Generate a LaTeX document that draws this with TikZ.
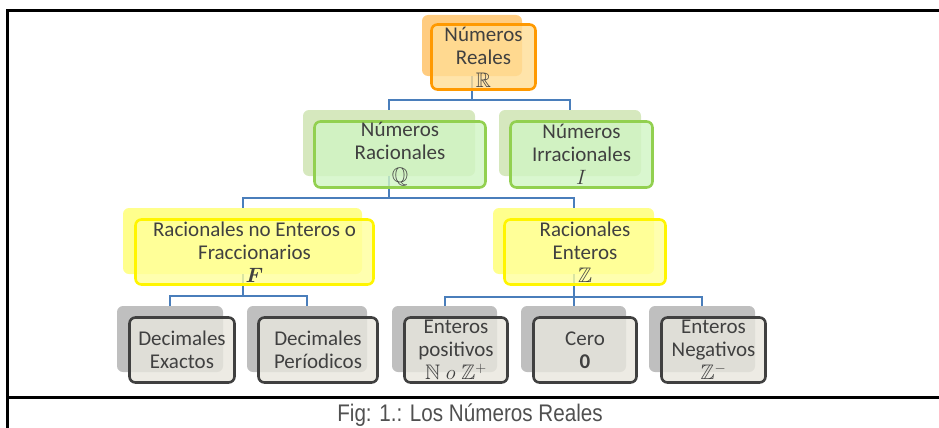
\documentclass[tikz,border=0pt]{standalone}
\usepackage{amsmath,amssymb,bm}
\usepackage{fontspec}
\setmainfont{Carlito}
\newfontfamily\capfont[FakeStretch=0.86]{Liberation Sans}
\definecolor{txt}{RGB}{64,64,64}
\definecolor{captxt}{RGB}{80,80,80}
\definecolor{conncol}{RGB}{74,126,187}
\definecolor{ofr}{RGB}{255,221,149}
\definecolor{osh}{RGB}{255,204,128}
\definecolor{obd}{RGB}{255,153,0}
\definecolor{gfr}{RGB}{208,245,195}
\definecolor{gsh}{RGB}{214,232,190}
\definecolor{gbd}{RGB}{146,208,80}
\definecolor{yfr}{RGB}{255,255,155}
\definecolor{ysh}{RGB}{255,255,140}
\definecolor{ybd}{RGB}{255,245,0}
\definecolor{kfr}{RGB}{232,230,221}
\definecolor{ksh}{RGB}{191,191,191}
\definecolor{kbd}{RGB}{64,64,64}
\tikzset{
  shad/.style={draw=none, rounded corners=6pt, inner sep=0pt},
  front/.style={rounded corners=6pt, inner sep=0pt, align=center, text=txt,
    line width=2.6pt, fill opacity=0.8, text opacity=1, draw opacity=1,
    font=\fontsize{21}{23}\selectfont},
  oshad/.style={shad, fill=osh},
  gshad/.style={shad, fill=gsh},
  yshad/.style={shad, fill=ysh},
  kshad/.style={shad, fill=ksh},
  ofront/.style={front, fill=ofr, draw=obd},
  gfront/.style={front, fill=gfr, draw=gbd},
  yfront/.style={front, fill=yfr, draw=ybd},
  kfront/.style={front, fill=kfr, draw=kbd},
  conn/.style={draw=conncol, line width=2pt},
  frameline/.style={line width=3pt, black}
}
\begin{document}
\begin{tikzpicture}[x=1pt,y=-1pt]
\useasboundingbox (0,0) rectangle (939,428);
% shadows
\node[oshad, minimum width=100pt, minimum height=61pt] (rs) at (472,45.5) {};
\node[gshad, minimum width=172pt, minimum height=66pt] (racs) at (389,143) {};
\node[gshad, minimum width=142pt, minimum height=66pt] (irrs) at (570,143) {};
\node[yshad, minimum width=239pt, minimum height=66pt] (rnes) at (242.5,241) {};
\node[yshad, minimum width=161pt, minimum height=66pt] (res) at (573.5,241) {};
\node[kshad, minimum width=106pt, minimum height=66pt] (des) at (170,339) {};
\node[kshad, minimum width=120pt, minimum height=66pt] (dps) at (307,339) {};
\node[kshad, minimum width=105pt, minimum height=66pt] (eps) at (444.5,339) {};
\node[kshad, minimum width=105pt, minimum height=66pt] (ceros) at (573.5,339) {};
\node[kshad, minimum width=106pt, minimum height=66pt] (ens) at (702,339) {};
% connectors
\coordinate (j1) at (472,100);
\coordinate (j2) at (389,198);
\coordinate (j3) at (242.5,296);
\coordinate (j4) at (573.5,297);
\draw[conn] (rs.south) -- (j1);
\draw[conn] (j1) -| (racs.north);
\draw[conn] (j1) -| (irrs.north);
\draw[conn] (racs.south) -- (j2);
\draw[conn] (j2) -| (rnes.north);
\draw[conn] (j2) -| (res.north);
\draw[conn] (rnes.south) -- (j3);
\draw[conn] (j3) -| (des.north);
\draw[conn] (j3) -| (dps.north);
\draw[conn] (res.south) -- (j4);
\draw[conn] (j4) -| (eps.north);
\draw[conn] (j4) -- (ceros.north);
\draw[conn] (j4) -| (ens.north);
% fronts
\node[ofront, minimum width=104pt, minimum height=65pt] (r) at (483.5,57) {Números\\Reales\\$\mathbb{R}$};
\node[gfront, minimum width=171pt, minimum height=66pt] (rac) at (400,154.5) {Números\\Racionales\\$\mathbb{Q}$};
\node[gfront, minimum width=142pt, minimum height=66pt] (irr) at (581.5,154.5) {Números\\Irracionales\\$I$};
\node[yfront, minimum width=238pt, minimum height=65pt] (rne) at (254.5,252) {Racionales no Enteros o\\Fraccionarios\\$\bm{F}$};
\node[yfront, minimum width=161pt, minimum height=65pt] (re) at (585,252) {Racionales\\Enteros\\$\mathbb{Z}$};
\node[kfront, minimum width=105pt, minimum height=65pt] (de) at (182,350) {Decimales\\Exactos};
\node[kfront, minimum width=119pt, minimum height=65pt] (dp) at (318,350) {Decimales\\Períodicos};
\node[kfront, minimum width=103pt, minimum height=65pt] (ep) at (456,350) {Enteros\\positivos\\$\mathbb{N}\;o\;\mathbb{Z}^{+}$};
\node[kfront, minimum width=103pt, minimum height=65pt] (cero) at (585,350) {Cero\\$\mathbf{0}$};
\node[kfront, minimum width=104pt, minimum height=65pt] (en) at (713.5,350) {Enteros\\Negativos\\$\mathbb{Z}^{-}$};
% frame
\draw[frameline] (939,11) -- (7,11) -- (7,428);
\draw[frameline] (7,397) -- (939,397);
\node[anchor=base, inner sep=0pt, text=captxt, font=\capfont\fontsize{24}{28}\selectfont] (cap) at (470,421) {Fig: 1.: Los Números Reales};
\end{tikzpicture}
\end{document}
